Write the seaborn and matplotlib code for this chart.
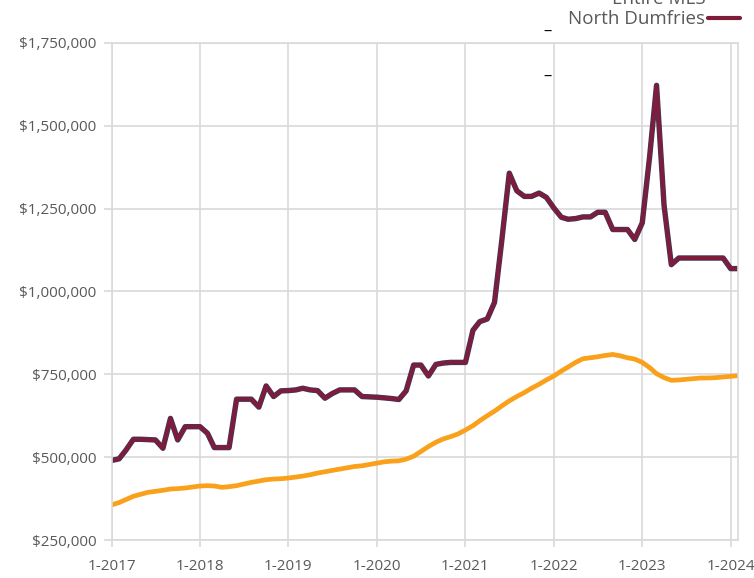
import pandas as pd
import numpy as np
import seaborn as sns
import matplotlib.pyplot as plt
import matplotlib.dates as mdates
import matplotlib.patheffects as pe
from matplotlib.ticker import FuncFormatter
from matplotlib.lines import Line2D

# monthly benchmark prices, Jan 2017 - Feb 2024 (thousands of $)
months = pd.date_range("2017-01-01", "2024-02-01", freq="MS")

entire_mls = [356, 363, 372, 382, 388, 394, 397, 400, 404, 405, 407, 410,
              413, 414, 413, 409, 411, 414, 419, 424, 428, 432, 434, 435,
              437, 440, 443, 447, 452, 456, 460, 464, 468, 472, 474, 478,
              482, 486, 488, 489, 494, 503, 517, 532, 545, 555, 562, 570,
              582, 595, 610, 625, 639, 655, 670, 683, 695, 708, 720, 733,
              745, 760, 772, 786, 797, 800, 803, 807, 810, 806, 800, 796,
              786, 770, 752, 740, 732, 733, 735, 737, 739, 739, 740, 742,
              744, 746]

north_dumfries = [490, 495, 521, 554, 554, 553, 552, 527, 617, 552, 592, 592,
                  592, 572, 529, 529, 529, 675, 675, 675, 651, 715, 683, 700,
                  701, 703, 708, 703, 701, 678, 692, 703, 703, 703, 683, 682,
                  681, 679, 677, 674, 700, 778, 778, 745, 780, 784, 786, 786,
                  786, 883, 909, 917, 967, 1160, 1357, 1304, 1287, 1287, 1297, 1284,
                  1252, 1224, 1218, 1220, 1225, 1225, 1239, 1239, 1187, 1187, 1187, 1157,
                  1207, 1411, 1622, 1260, 1081, 1101, 1101, 1101, 1101, 1101, 1101, 1101,
                  1069, 1069]

series_names = ["Entire MLS", "North Dumfries"]
y_ticks = [250000, 500000, 750000, 1000000, 1250000, 1500000, 1750000]

df = pd.DataFrame({
    "month": months,
    "Entire MLS": np.array(entire_mls) * 1000,
    "North Dumfries": np.array(north_dumfries) * 1000,
})

orange = "#F9A11B"
maroon = "#7D1D3A"
grid_c = "#D9D9D9"
text_c = "#595959"

sns.set_style("white")
plt.rcParams["font.family"] = ["Open Sans", "DejaVu Sans"]

fig = plt.figure(figsize=(7.54, 5.78), dpi=100)
ax = fig.add_axes([0.148, 0.0657, 0.831, 0.860])

sns.lineplot(data=df, x="month", y="Entire MLS", ax=ax, color=orange, linewidth=3.4)
sns.lineplot(data=df, x="month", y="North Dumfries", ax=ax, color=maroon, linewidth=2.9,
             path_effects=[pe.Stroke(linewidth=3.9, foreground="#3A3866"), pe.Normal()])

ax.set_xlim(months[0], months[-1])
ax.set_ylim(250000, 1750000)
ax.set_yticks(y_ticks)
ax.yaxis.set_major_formatter(FuncFormatter(lambda v, p: f"${v:,.0f}"))
ax.xaxis.set_major_locator(mdates.MonthLocator(bymonth=1))
ax.xaxis.set_major_formatter(FuncFormatter(lambda v, p: "1-" + mdates.num2date(v).strftime("%Y")))
ax.set_xlabel("")
ax.set_ylabel("")

ax.grid(True, color=grid_c, linewidth=1.2)
ax.set_axisbelow(True)
for s in ax.spines.values():
    s.set_color(grid_c)
    s.set_linewidth(1.2)
ax.tick_params(axis="y", length=6, width=1.2, color=grid_c, pad=5, labelsize=11, labelcolor=text_c, left=True)
ax.tick_params(axis="x", length=5, width=1.2, color=grid_c, pad=9, labelsize=11, labelcolor=text_c, bottom=True)

handles = [Line2D([], [], color=orange, linewidth=3), Line2D([], [], color=maroon, linewidth=3)]
fig.legend(handles, series_names, loc="upper right", bbox_to_anchor=(740 / 754, 1.018),
           frameon=False, markerfirst=False, fontsize=13.5, labelcolor=text_c,
           handlelength=1.7, handletextpad=0.15, labelspacing=0.15, borderpad=0, borderaxespad=0)

fig.text(548 / 754, 1 - 32 / 578, "–", ha="center", va="center", fontsize=12, color="black")
fig.text(548 / 754, 1 - 77 / 578, "–", ha="center", va="center", fontsize=12, color="black")

fig.savefig("out.png", dpi=100)
